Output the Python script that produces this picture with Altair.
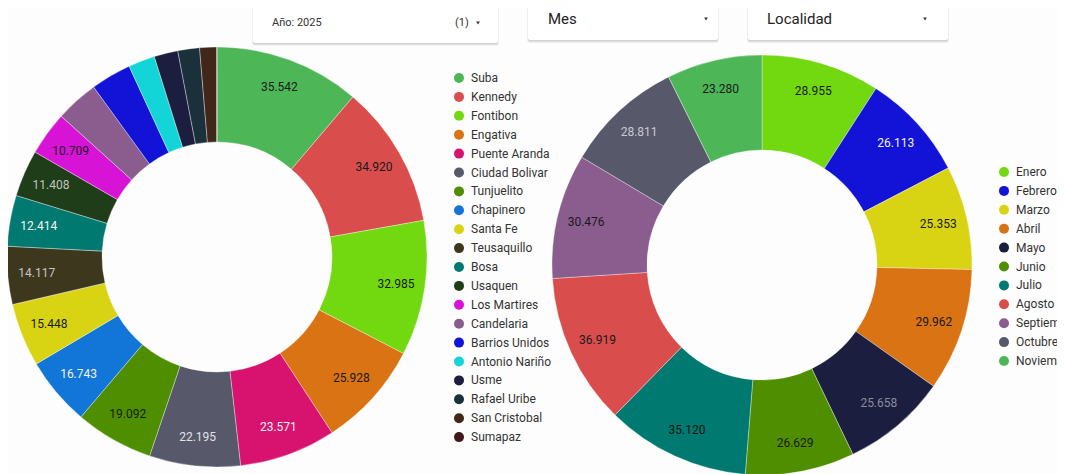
import altair as alt
import pandas as pd

# ---------------- data ----------------
localidades = ["Suba", "Kennedy", "Fontibon", "Engativa", "Puente Aranda", "Ciudad Bolivar",
               "Tunjuelito", "Chapinero", "Santa Fe", "Teusaquillo", "Bosa", "Usaquen",
               "Los Martires", "Candelaria", "Barrios Unidos", "Antonio Nariño", "Usme",
               "Rafael Uribe", "San Cristobal", "Sumapaz"]
valores_loc = [35542, 34920, 32985, 25928, 23571, 22195, 19092, 16743, 15448, 14117,
               12414, 11408, 10709, 10500, 9900, 6500, 5800, 5300, 4100, 100]
colores_loc = ["#4db757", "#d94e4c", "#72d80f", "#d97314", "#d8126f", "#575869",
               "#4e8e00", "#1276d8", "#d8d414", "#3d371d", "#007a70", "#203d19",
               "#d713d6", "#8a5d8e", "#1313d7", "#13d5d8", "#1b1e3e", "#1a313b",
               "#41261a", "#3e1a1a"]
texto_loc = ["#1a1a1a", "#1a1a1a", "#1a1a1a", "#1a1a1a", "#f2f2f2", "#e2e2e6",
             "#1a1a1a", "#f2f2f2", "#1a1a1a", "#c4c4c4", "#f5f5f5", "#c0c4c0",
             "#1a1a1a", "#1a1a1a", "#1a1a1a", "#1a1a1a", "#1a1a1a", "#1a1a1a",
             "#1a1a1a", "#1a1a1a"]

meses = ["Enero", "Febrero", "Marzo", "Abril", "Mayo", "Junio", "Julio", "Agosto",
         "Septiembre", "Octubre", "Noviembre"]
valores_mes = [28955, 26113, 25353, 29962, 25658, 26629, 35120, 36919, 30476, 28811, 23280]
colores_mes = ["#72d80f", "#1313d7", "#d8d414", "#d97314", "#1b1e3e", "#4e8e00",
               "#007a70", "#d94e4c", "#8a5d8e", "#575869", "#4db757"]
texto_mes = ["#1a1a1a", "#f0f0f0", "#1a1a1a", "#1a1a1a", "#8c8c9c", "#1a1a1a",
             "#111111", "#1a1a1a", "#1a1a1a", "#c8c8d0", "#1a1a1a"]

umbral_etiqueta = 10600


def fmt(v):
    return f"{v:,}".replace(",", ".") if v >= umbral_etiqueta else ""


dl = pd.DataFrame({"localidad": localidades, "valor": valores_loc,
                   "orden": list(range(len(localidades))),
                   "etiqueta": [fmt(v) for v in valores_loc], "tc": texto_loc})
dm = pd.DataFrame({"mes": meses, "valor": valores_mes,
                   "orden": list(range(len(meses))),
                   "etiqueta": [fmt(v) for v in valores_mes], "tc": texto_mes})

FONT = "Roboto"


def donut(df, cat, domain, rng, cx, cy, lx, ly):
    arc = alt.Chart(df).mark_arc(outerRadius=210, innerRadius=115,
                                 stroke="#ffffff", strokeWidth=0.5, strokeOpacity=0.7).encode(
        theta=alt.Theta("valor:Q", stack=True),
        order=alt.Order("orden:Q"),
        color=alt.Color(f"{cat}:N", scale=alt.Scale(domain=domain, range=rng),
                        legend=alt.Legend(orient="none", legendX=lx, legendY=ly, title=None,
                                          symbolType="circle", symbolSize=100,
                                          symbolStrokeWidth=0, labelFont=FONT,
                                          labelFontSize=12, labelColor="#333333",
                                          rowPadding=6.9, padding=0, labelOffset=6,
                                          labelLimit=200)),
        x=alt.value(cx), y=alt.value(cy),
    )
    txt = alt.Chart(df).mark_text(radius=181, font=FONT, fontSize=12).encode(
        theta=alt.Theta("valor:Q", stack=True),
        order=alt.Order("orden:Q"),
        detail=f"{cat}:N",
        text="etiqueta:N",
        fill=alt.Fill("tc:N", scale=None),
        x=alt.value(cx), y=alt.value(cy),
    )
    return alt.layer(arc, txt)


left = donut(dl, "localidad", localidades, colores_loc, 209, 249, 445, 64)
right = donut(dm, "mes", meses, colores_mes, 754, 257, 990, 158)

one = pd.DataFrame({"k": [0]})


def caja(x0, x1, y0, y1):
    sombra1 = alt.Chart(one).mark_rect(color="#000000", opacity=0.06, cornerRadius=3).encode(
        x=alt.value(x0 - 1), x2=alt.value(x1 + 1), y=alt.value(y0), y2=alt.value(y1 + 3))
    sombra2 = alt.Chart(one).mark_rect(color="#000000", opacity=0.12, cornerRadius=2).encode(
        x=alt.value(x0), x2=alt.value(x1), y=alt.value(y0 + 1), y2=alt.value(y1 + 1.5))
    blanco = alt.Chart(one).mark_rect(color="#ffffff", cornerRadius=2).encode(
        x=alt.value(x0), x2=alt.value(x1), y=alt.value(y0), y2=alt.value(y1))
    return [sombra1, sombra2, blanco]


def texto(t, x, y, size, color="#333333"):
    return alt.Chart(one).mark_text(text=t, font=FONT, fontSize=size, color=color,
                                    align="left", baseline="middle").encode(
        x=alt.value(x), y=alt.value(y))


def flecha(x, y):
    return alt.Chart(one).mark_point(shape="triangle-down", filled=True, size=14,
                                     color="#333333", opacity=1).encode(
        x=alt.value(x), y=alt.value(y))


capas = []
capas += caja(245, 490, -8, 35)
capas += [texto("Año: 2025", 264, 15, 11), texto("(1)", 447, 15, 11), flecha(470, 15)]
capas += caja(520, 710, -8, 32)
capas += [texto("Mes", 540, 11, 15, "#222222"), flecha(698, 11)]
capas += caja(740, 940, -8, 32)
capas += [texto("Localidad", 759, 11, 15, "#222222"), flecha(917, 11)]

chart = alt.layer(left, right, *capas).resolve_scale(
    theta="independent", color="independent"
).properties(
    width=1049, height=466, padding=0, autosize="none", background="#fdfdfd"
).configure_view(stroke=None)

chart.save("out.html", embed_options={"renderer": "svg", "actions": False})
